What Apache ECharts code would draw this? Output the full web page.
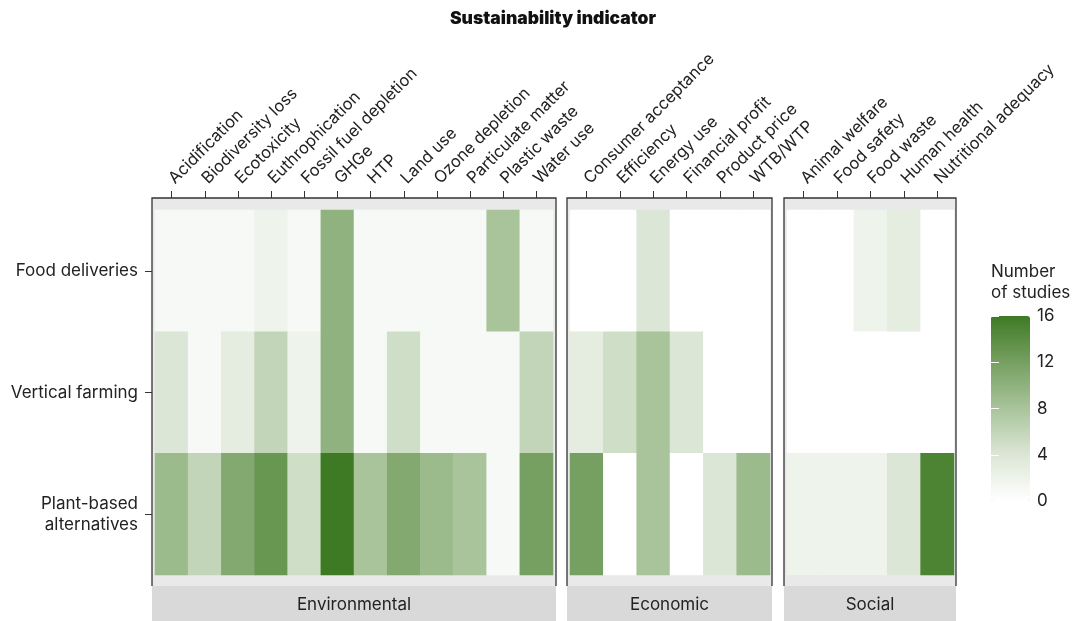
<!DOCTYPE html>
<html>
<head>
<meta charset="utf-8">
<script src="https://cdn.jsdelivr.net/npm/echarts@6/dist/echarts.min.js"></script>
<style>
html,body{margin:0;padding:0;background:#fff;}
#chart{width:1073px;height:621px;}
</style>
</head>
<body>
<div id="chart"></div>
<script>
// ---- Data ----
const rows = ['Food deliveries', 'Vertical farming', 'Plant-based\nalternatives'];
const envCategories = ['Acidification','Biodiversity loss','Ecotoxicity','Euthrophication','Fossil fuel depletion','GHGe','HTP','Land use','Ozone depletion','Particulate matter','Plastic waste','Water use'];
const ecoCategories = ['Consumer acceptance','Efficiency','Energy use','Financial profit','Product price','WTB/WTP'];
const socCategories = ['Animal welfare','Food safety','Food waste','Human health','Nutritional adequacy'];
// values per row (Food deliveries, Vertical farming, Plant-based alternatives)
const envFood  = [1, 1, 1, 2, 1, 10, 1, 1, 1, 1, 8, 1];
const envVert  = [4, 1, 3, 6, 2, 10, 1, 5, 1, 1, 1, 6];
const envPlant = [9, 6, 11, 13, 5, 16, 8, 11, 9, 8, 1, 12];
const ecoFood  = [0, 0, 4, 0, 0, 0];
const ecoVert  = [3, 5, 8, 4, 0, 0];
const ecoPlant = [12, 0, 8, 0, 4, 9];
const socFood  = [0, 0, 2, 3, 0];
const socVert  = [0, 0, 0, 0, 0];
const socPlant = [2, 2, 2, 4, 15];
const facetNames = ['Environmental', 'Economic', 'Social'];
const legendTicks = [0, 4, 8, 12, 16];

function toCells(rowArrays) {
  const out = [];
  rowArrays.forEach((arr, r) => arr.forEach((v, c) => out.push([c, r, v])));
  return out;
}

const facets = [
  { cats: envCategories, data: toCells([envFood, envVert, envPlant]), left: 155, width: 398, fl: 152, fr: 556 },
  { cats: ecoCategories, data: toCells([ecoFood, ecoVert, ecoPlant]), left: 570, width: 200, fl: 567, fr: 772 },
  { cats: socCategories, data: toCells([socFood, socVert, socPlant]), left: 787, width: 167, fl: 784, fr: 956 }
];

const FONT = 'Inter, "Noto Sans", sans-serif';
const TXT = '#222';
const gridTop = 210, gridH = 365;
const panelTop = 198, panelBottom = 586;

const grids = [], xAxes = [], yAxes = [], series = [], graphics = [];
facets.forEach((f, i) => {
  grids.push({ left: f.left, top: gridTop, width: f.width, height: gridH });
  xAxes.push({
    type: 'category', gridIndex: i, data: f.cats, position: 'top', offset: 12,
    axisLine: { show: false },
    axisTick: { show: true, alignWithLabel: true, length: 7, lineStyle: { color: '#333' } },
    axisLabel: { rotate: -45, margin: 17, interval: 0, fontSize: 16.5, color: TXT, fontFamily: FONT },
    splitLine: { show: false }
  });
  yAxes.push({
    type: 'category', gridIndex: i, data: rows, inverse: true, offset: 3,
    axisLine: { show: false },
    axisTick: { show: i === 0, alignWithLabel: true, length: 7, lineStyle: { color: '#333' } },
    axisLabel: { show: i === 0, margin: 14, fontSize: 17, lineHeight: 21, color: TXT, fontFamily: FONT, align: 'right' },
    splitLine: { show: false }
  });
  series.push({
    type: 'heatmap', xAxisIndex: i, yAxisIndex: i, data: f.data,
    itemStyle: { borderWidth: 0 }, emphasis: { disabled: true }, silent: true
  });
  graphics.push({ type: 'rect', z: -10, shape: { x: f.fl, y: panelTop, width: f.fr - f.fl, height: panelBottom - panelTop }, style: { fill: '#e9e9e9' } });
  graphics.push({ type: 'polyline', z: 10, shape: { points: [[f.fl, panelBottom], [f.fl, panelTop], [f.fr, panelTop], [f.fr, panelBottom]] }, style: { stroke: '#333', lineWidth: 1.3, fill: null } });
  graphics.push({ type: 'rect', z: -10, shape: { x: f.fl, y: panelBottom, width: f.fr - f.fl, height: 621 - panelBottom }, style: { fill: '#d9d9d9' } });
  graphics.push({ type: 'text', z: 10, style: { text: facetNames[i], x: (f.fl + f.fr) / 2, y: 605, align: 'center', verticalAlign: 'middle', fontSize: 17, fill: TXT, fontFamily: FONT } });
});

// legend grid (axis labels for the colour bar)
grids.push({ left: 991, top: 316, width: 39, height: 185 });
xAxes.push({ type: 'value', gridIndex: 3, show: false, min: 0, max: 1 });
yAxes.push({
  type: 'value', gridIndex: 3, min: legendTicks[0], max: legendTicks[legendTicks.length - 1], interval: 4, position: 'right', z: 10,
  axisLine: { show: false }, splitLine: { show: false },
  axisTick: { show: true, inside: true, length: 8, lineStyle: { color: '#fff', width: 1 } },
  axisLabel: { margin: 7, fontSize: 17, color: TXT, fontFamily: FONT }
});
yAxes.push({
  type: 'value', gridIndex: 3, min: 0, max: 16, interval: 4, position: 'left', z: 10,
  axisLine: { show: false }, splitLine: { show: false },
  axisTick: { show: true, inside: true, length: 8, lineStyle: { color: '#fff', width: 1 } },
  axisLabel: { show: false }
});

graphics.push({ type: 'text', style: { text: 'Number\nof studies', x: 991, y: 261, fontSize: 17, lineHeight: 21, fill: TXT, fontFamily: FONT } });
graphics.push({ type: 'text', style: { text: 'Sustainability indicator', x: 553, y: 19, align: 'center', verticalAlign: 'middle', fontSize: 17.5, fontWeight: 900, fill: '#111', fontFamily: FONT } });

const chart = echarts.init(document.getElementById('chart'), null, { renderer: 'canvas' });
chart.setOption({
  animation: false,
  backgroundColor: '#fff',
  grid: grids,
  xAxis: xAxes,
  yAxis: yAxes,
  visualMap: {
    type: 'continuous', min: 0, max: 16, seriesIndex: [0, 1, 2],
    orient: 'vertical', left: 991, top: 316, itemWidth: 39, itemHeight: 185,
    padding: 0, calculable: false, hoverLink: false, text: null, showLabel: false,
    inRange: { color: ['#ffffff', '#dce6d6', '#a9c49b', '#76a061', '#3e7a24'] }
  },
  graphic: graphics,
  series: series
});
</script>
</body>
</html>
